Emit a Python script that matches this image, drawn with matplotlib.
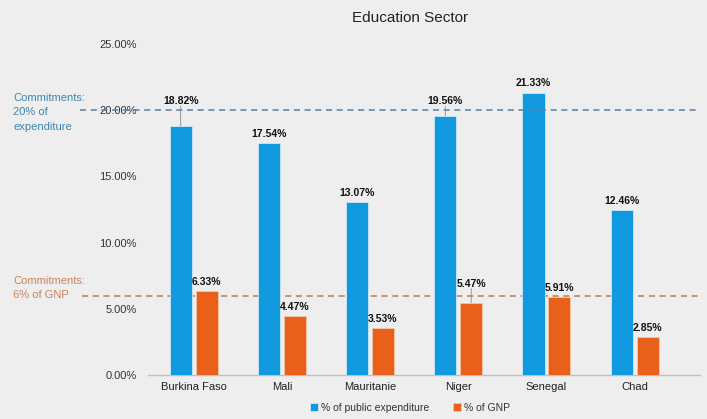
import matplotlib
matplotlib.use("Agg")
import matplotlib.pyplot as plt
import numpy as np

plt.rcParams['font.family'] = ['Liberation Sans', 'DejaVu Sans']

categories = ["Burkina Faso", "Mali", "Mauritanie", "Niger", "Senegal", "Chad"]
public_exp = [18.82, 17.54, 13.07, 19.56, 21.33, 12.46]
gnp = [6.33, 4.47, 3.53, 5.47, 5.91, 2.85]
yticks = [0, 5, 10, 15, 20, 25]
commit_exp = 20
commit_gnp = 6

blue = "#1199e0"
orange = "#e8601a"
bg = "#eeeeee"

fig = plt.figure(figsize=(7.07, 4.19), dpi=100, facecolor=bg)
ax = fig.add_axes([0.209, 0.105, 0.781, 0.79])
ax.set_facecolor(bg)

x = np.arange(len(categories))
w = 0.25
off = 0.147
b1 = ax.bar(x - off, public_exp, w, color=blue, edgecolor="#cfe8f7", linewidth=0.6,
            label="% of public expenditure", zorder=3)
b2 = ax.bar(x + off, gnp, w, color=orange, edgecolor="#f3c7ae", linewidth=0.6,
            label="% of GNP", zorder=3)

ax.set_xlim(-0.52, 5.74)
ax.set_ylim(0, 25)
ax.set_yticks(yticks)
ax.set_yticklabels([f"{v:.2f}%" for v in yticks], fontsize=8, color="#333333")
ax.set_xticks(x)
ax.set_xticklabels(categories, fontsize=8, color="#222222")
ax.tick_params(length=0, pad=8)
ax.tick_params(axis='x', pad=5)
for s in ["top", "right", "left"]:
    ax.spines[s].set_visible(False)
ax.spines["bottom"].set_color("#c0c0c0")
ax.spines["bottom"].set_linewidth(1.0)

# commitment lines
ax.axhline(commit_exp, xmin=-0.123, xmax=1.0, clip_on=False, color="#5a7f9e",
           linestyle=(0, (4, 3)), linewidth=1.1, zorder=4)
ax.axhline(commit_gnp, xmin=-0.12, xmax=1.0, clip_on=False, color="#c07a4e",
           linestyle=(0, (4, 3)), linewidth=1.1, zorder=2)

fig.text(13 / 707, 1 - 93 / 419, "Commitments:\n20% of\nexpenditure", color="#3d86b0",
         fontsize=8, va="top", ha="left", linespacing=1.55)
fig.text(13 / 707, 1 - 276 / 419, "Commitments:\n6% of GNP", color="#c9825a",
         fontsize=8, va="top", ha="left", linespacing=1.55)

# data labels
leader = {("b", 0): 14, ("o", 3): 10, ("b", 3): 7}
for kind, bars, vals in (("b", b1, public_exp), ("o", b2, gnp)):
    for i, (r, v) in enumerate(zip(bars, vals)):
        cx = r.get_x() + r.get_width() / 2
        dy = leader.get((kind, i), 3)
        ax.annotate(f"{v:.2f}%", (cx, v), xytext=(0, dy), textcoords="offset points",
                    ha="center", va="bottom", fontsize=7.5, fontweight="bold",
                    color="#111111", zorder=5)
        if dy > 3:
            ax.annotate("", (cx, v), xytext=(0, dy), textcoords="offset points",
                        arrowprops=dict(arrowstyle="-", color="#888888", lw=0.6,
                                        shrinkA=0, shrinkB=0), zorder=5)

fig.text(0.58, 1 - 18 / 419, "Education Sector", ha="center", va="center",
         fontsize=11, color="#222222")

leg = fig.legend(handles=[b1, b2], loc="center", bbox_to_anchor=(0.58, 1 - 408 / 419),
                 ncol=2, frameon=False, fontsize=7.5, handlelength=0.8, handleheight=0.8,
                 columnspacing=2.2, handletextpad=0.3)
for t in leg.get_texts():
    t.set_color("#333333")

fig.savefig("out.png", dpi=100, facecolor=bg)
